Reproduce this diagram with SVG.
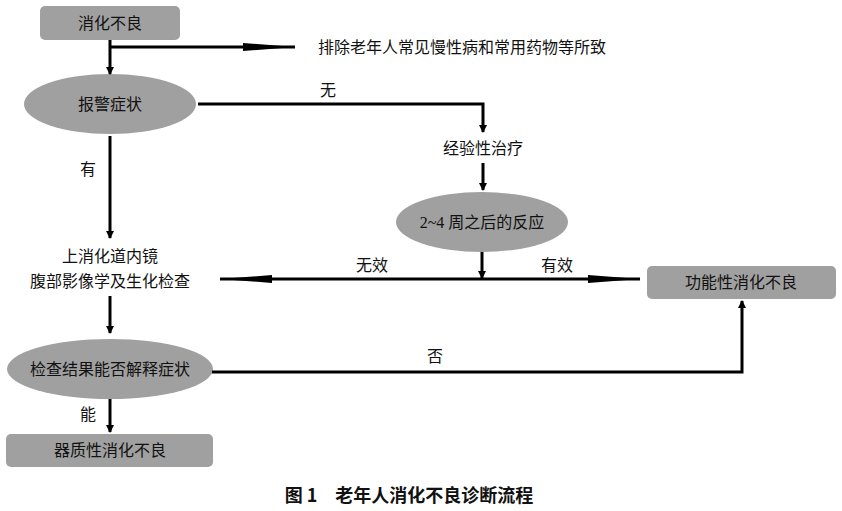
<svg xmlns="http://www.w3.org/2000/svg" width="842" height="511" viewBox="0 0 842 511">
<style>
text{font-family:"Liberation Serif","Noto Sans CJK SC",serif;font-size:16px;fill:#111}
.c{text-anchor:middle}
.n{fill:#a0a0a0}
.l{stroke:#000;fill:none;stroke-width:3}
</style>
<defs>
<marker id="a" markerWidth="8" markerHeight="8" refX="7" refY="4" orient="auto" markerUnits="userSpaceOnUse"><path d="M0,0L8,4L0,8z"/></marker>
<marker id="b" markerWidth="52" markerHeight="10" refX="52" refY="5" orient="auto" markerUnits="userSpaceOnUse"><path d="M0,1L52,5L0,9z"/></marker>
</defs>
<rect width="842" height="511" fill="#fff"/>
<g id="n1"><rect class="n" x="40" y="6" width="140" height="34" rx="5"/><text class="c" x="110" y="29">消化不良</text></g>
<g id="n2"><text x="318" y="53">排除老年人常见慢性病和常用药物等所致</text></g>
<g id="n3"><ellipse class="n" cx="110" cy="104" rx="86" ry="30"/><text class="c" x="110" y="110">报警症状</text></g>
<g id="n4"><text class="c" x="483" y="154">经验性治疗</text></g>
<g id="n5"><ellipse class="n" cx="482" cy="222" rx="86" ry="30"/><text class="c" x="482" y="228">2~4 周之后的反应</text></g>
<g id="n6"><text class="c" x="110" y="262">上消化道内镜</text><text class="c" x="110" y="287">腹部影像学及生化检查</text></g>
<g id="n7"><rect class="n" x="647" y="266" width="189" height="33" rx="5"/><text class="c" x="741" y="288">功能性消化不良</text></g>
<g id="n8"><ellipse class="n" cx="110" cy="369" rx="103" ry="30"/><text class="c" x="110" y="375">检查结果能否解释症状</text></g>
<g id="n9"><rect class="n" x="6" y="434" width="207" height="33" rx="5"/><text class="c" x="110" y="456">器质性消化不良</text></g>
<g id="edges">
<path class="l" d="M110,40V74" marker-end="url(#a)"/>
<path class="l" d="M110,47H295" stroke-width="2" marker-end="url(#b)"/>
<path class="l" d="M198,104H483V132" stroke-width="5" marker-end="url(#a)"/>
<path class="l" d="M483,163V190" marker-end="url(#a)"/>
<path class="l" d="M482,252V278" marker-end="url(#a)"/>
<path class="l" d="M482,279H220" marker-end="url(#b)"/>
<path class="l" d="M482,279H640" marker-end="url(#b)"/>
<path class="l" d="M110,136V238" stroke-width="4" marker-end="url(#a)"/>
<path class="l" d="M110,296V333" marker-end="url(#a)"/>
<path class="l" d="M110,399V432" marker-end="url(#a)"/>
<path class="l" d="M212,372H742V301" stroke-width="4" marker-end="url(#a)"/>
<text x="320" y="96">无</text>
<text x="80" y="175">有</text>
<text x="356" y="271">无效</text>
<text x="541" y="271">有效</text>
<text x="427" y="362">否</text>
<text x="80" y="420">能</text>
</g>
<text class="c" x="409" y="502" style="font-family:'Noto Sans CJK SC',sans-serif;font-weight:bold;font-size:18px">图 1　老年人消化不良诊断流程</text>
</svg>
